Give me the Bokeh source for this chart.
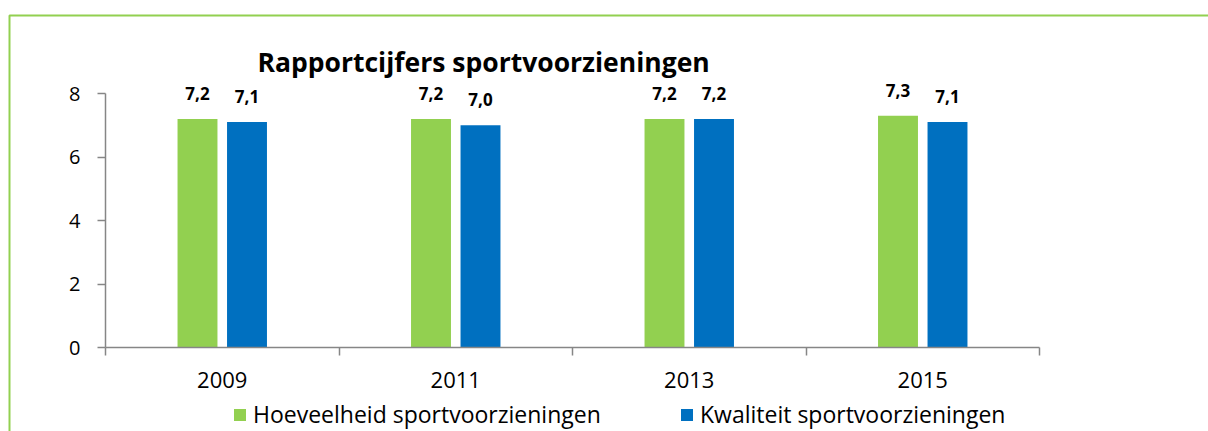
from bokeh.plotting import figure
from bokeh.models import (ColumnDataSource, FixedTicker, LabelSet, Legend, LegendItem,
                          Label, BoxAnnotation)
from bokeh.core.properties import value
from bokeh.transform import dodge
from bokeh.embed import file_html
from bokeh.resources import INLINE

# ---- data ----
years = ["2009", "2011", "2013", "2015"]
hoeveelheid = [7.2, 7.2, 7.2, 7.3]
kwaliteit = [7.1, 7.0, 7.2, 7.1]
series_names = ["Hoeveelheid sportvoorzieningen", "Kwaliteit sportvoorzieningen"]
y_ticks = [0, 2, 4, 6, 8]
y_max = 8
title_text = "Rapportcijfers sportvoorzieningen"

GREEN = "#92D050"
BLUE = "#0070C0"
GREY = "#868686"
FONT = "Open Sans"

# ---- layout (pixels) ----
W, H = 1208, 431
PX0, PY0 = 105, 347          # pixel position of (x=0, y=0)
UX = 233.5                   # pixels per category
UY = 31.75                   # pixels per rating unit

def dx(px):
    return (px - PX0) / UX

def dy(py):
    return (PY0 - py) / UY

centers = [i + 0.5 for i in range(len(years))]
fmt = lambda v: f"{v:.1f}".replace(".", ",")
src = ColumnDataSource(dict(
    x=centers,
    hoev=hoeveelheid,
    kwal=kwaliteit,
    hoev_lbl=[fmt(v) for v in hoeveelheid],
    kwal_lbl=[fmt(v) for v in kwaliteit],
))

p = figure(width=W, height=H, output_backend="svg", toolbar_location=None,
           x_range=(dx(0), dx(W)), y_range=(dy(H), dy(0)),
           min_border=0, min_border_left=0, min_border_right=0,
           min_border_top=0, min_border_bottom=0)
p.outline_line_color = None
p.xgrid.visible = False
p.ygrid.visible = False
p.background_fill_color = "white"
p.border_fill_color = "white"

OFF = 0.106
BW = 0.171
r1 = p.vbar(x=dodge("x", -OFF), top="hoev", width=BW, source=src,
            fill_color=GREEN, line_color=None)
r2 = p.vbar(x=dodge("x", OFF), top="kwal", width=BW, source=src,
            fill_color=BLUE, line_color=None)

for col, lbl, off in (("hoev", "hoev_lbl", -OFF), ("kwal", "kwal_lbl", OFF)):
    ls = LabelSet(x=dodge("x", off), y=col, text=lbl, source=src,
                  text_align="center", text_baseline="alphabetic", y_offset=19,
                  text_font=value(FONT), text_font_size="17px", text_font_style="bold",
                  text_color="black")
    p.add_layout(ls)

# y axis (drawn inside the frame at x = 0)
ya = p.yaxis[0]
ya.fixed_location = 0
ya.bounds = (0, y_max)
ya.ticker = FixedTicker(ticks=y_ticks, minor_ticks=[])
ya.axis_line_color = GREY
ya.axis_line_width = 1.5
ya.major_tick_line_color = GREY
ya.major_tick_line_width = 1.5
ya.major_tick_out = 8
ya.major_tick_in = 0
ya.minor_tick_line_color = None
ya.major_label_standoff = 17
ya.major_label_text_font = FONT
ya.major_label_text_font_size = "20px"
ya.major_label_text_color = "black"

# x axis: labels at category centres, ticks at category boundaries
xa = p.xaxis[0]
xa.fixed_location = 0
xa.bounds = (0, len(years))
xa.ticker = FixedTicker(ticks=centers, minor_ticks=list(range(len(years) + 1)))
xa.major_label_overrides = {c: y for c, y in zip(centers, years)}
xa.axis_line_color = GREY
xa.axis_line_width = 1.5
xa.major_tick_line_color = None
xa.major_tick_out = 0
xa.major_tick_in = 0
xa.minor_tick_line_color = GREY
xa.minor_tick_line_width = 1.5
xa.minor_tick_out = 8
xa.minor_tick_in = 0
xa.major_label_standoff = 16
xa.major_label_text_font = FONT
xa.major_label_text_font_size = "22px"
xa.major_label_text_color = "black"

# title
p.add_layout(Label(x=dx(257), y=dy(61), text=title_text, text_align="left",
                   text_baseline="alphabetic", text_font=FONT,
                   text_font_size="26.5px", text_font_style="bold", text_color="black"))

# legends
for r, name, lx in ((r1, series_names[0], 232), (r2, series_names[1], 679)):
    lg = Legend(items=[LegendItem(label=name, renderers=[r])],
                location=(lx, H - 430), orientation="horizontal",
                glyph_width=15, glyph_height=15, label_standoff=6,
                label_height=15,
                padding=0, margin=0, border_line_color=None,
                background_fill_alpha=0,
                label_text_font=FONT, label_text_font_size="23px",
                label_text_color="black")
    p.add_layout(lg, "center")

# chart border (top + left)
p.add_layout(BoxAnnotation(left=dx(9), right=dx(W + 50), top=dy(15), bottom=dy(H + 50),
                           fill_alpha=0, line_color=GREEN, line_alpha=1, line_width=2))

open("out.html", "w").write(file_html(p, INLINE))
